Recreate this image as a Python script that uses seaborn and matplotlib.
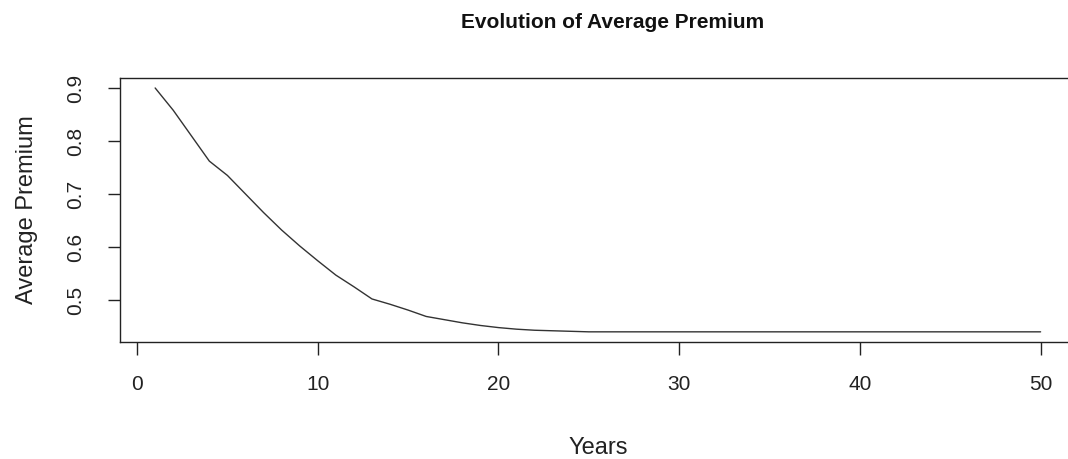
import matplotlib
matplotlib.use("Agg")
import matplotlib.pyplot as plt
import seaborn as sns
import pandas as pd

years = list(range(1, 51))
premium = [0.900, 0.858, 0.810, 0.762, 0.735, 0.700, 0.665, 0.632, 0.602, 0.574,
           0.547, 0.525, 0.502, 0.492, 0.481, 0.469, 0.463, 0.457, 0.452, 0.448,
           0.445, 0.443, 0.442, 0.441, 0.440] + [0.440] * 25
x_ticks = [0, 10, 20, 30, 40, 50]
y_ticks = [0.5, 0.6, 0.7, 0.8, 0.9]

sns.set_theme(style="white")
plt.rcParams['font.family'] = ['Liberation Sans', 'DejaVu Sans']

df = pd.DataFrame({"Years": years, "Average Premium": premium})

fig = plt.figure(figsize=(10.68, 4.59), dpi=100)
ax = fig.add_axes([0.1121, 0.2558, 0.8954, 0.5738])
sns.lineplot(data=df, x="Years", y="Average Premium", ax=ax, color="#333333", linewidth=1.0)

ax.set_xlim(-0.96, 51.96)
ax.set_ylim(0.4216, 0.9184)
ax.set_xticks(x_ticks)
ax.set_xticklabels([str(v) for v in x_ticks])
ax.set_yticks(y_ticks)
ax.set_yticklabels([f"{v:.1f}" for v in y_ticks], rotation=90, va="center")

for s in ax.spines.values():
    s.set_visible(True)
    s.set_color("#222222")
    s.set_linewidth(1.0)

ax.tick_params(axis="both", which="major", direction="out", length=9, width=1.0,
               color="#222222", labelsize=15, labelcolor="#222222",
               bottom=True, left=True)
ax.tick_params(axis="x", pad=15)
ax.tick_params(axis="y", pad=16)

ax.set_xlabel("Years", fontsize=17, color="#222222", labelpad=31)
ax.set_ylabel("Average Premium", fontsize=17, color="#222222", labelpad=20)
fig.text(0.574, 0.952, "Evolution of Average Premium", fontsize=15, fontweight="bold",
         ha="center", va="center", color="#111111")
ax.grid(False)

fig.savefig("out.png", dpi=100)
